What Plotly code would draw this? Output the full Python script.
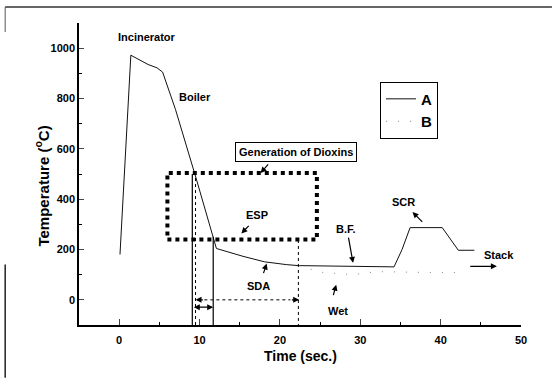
import plotly.graph_objects as go

# ---- data ----
A_time = [0.1, 1.45, 3.6, 4.7, 5.4, 7.0, 9.6, 12.1, 15.4, 18.1, 20.8, 22.3, 34.2, 35.2, 36.2, 40.2, 42.2, 44.2]
A_temp = [180, 972, 935, 922, 905, 757, 480, 204, 173, 151, 140, 136, 131, 200, 287, 287, 197, 197]

B_time = [22.4, 25.0, 29.1, 32.0, 38.3, 43.0]
B_temp = [136, 110, 100, 112, 109, 108]

x_ticks = [0, 10, 20, 30, 40, 50]
y_ticks = [0, 200, 400, 600, 800, 1000]

label_text = ["Incinerator", "Boiler", "ESP", "SDA", "Wet", "B.F.", "SCR", "Stack"]
label_x = [3.5, 9.4, 17.1, 17.3, 27.2, 28.2, 35.4, 47.3]
label_y = [1044, 807, 336, 56, -43, 280, 389, 180]

# arrows: (tail_x, tail_y, head_x, head_y)
arrow_tail_x = [16.3, 17.9, 26.6, 28.5, 37.9, 43.5, 18.7]
arrow_tail_y = [300, 100, 13, 253, 304, 133, 544]
arrow_head_x = [15.2, 18.35, 27.0, 29.1, 36.5, 47.0, 17.6]
arrow_head_y = [264, 144, 60, 147, 349, 133, 504]

dioxin_box_x = [6.0, 24.6]
dioxin_box_y = [240, 504]

FONT = "Liberation Sans, Arial, sans-serif"

fig = go.Figure()
fig.add_trace(go.Scatter(x=A_time, y=A_temp, mode="lines", name="A",
                         line=dict(color="#111", width=1)))
fig.add_trace(go.Scatter(x=B_time, y=B_temp, mode="lines", name="B",
                         line=dict(color="#888", width=1, dash="1px,11px")))

ann = []
for t, x, y in zip(label_text, label_x, label_y):
    ann.append(dict(x=x, y=y, xref="x", yref="y", text="<b>%s</b>" % t, showarrow=False,
                    font=dict(size=11, color="black", family=FONT)))
for tx, ty, hx, hy in zip(arrow_tail_x, arrow_tail_y, arrow_head_x, arrow_head_y):
    ann.append(dict(x=hx, y=hy, ax=tx, ay=ty, xref="x", yref="y", axref="x", ayref="y",
                    text="", showarrow=True, arrowhead=2, arrowsize=1, arrowwidth=1.2,
                    arrowcolor="black"))
# Generation of Dioxins box label
ann.append(dict(x=22.0, y=589, xref="x", yref="y", text="<b>Generation of Dioxins</b>",
                showarrow=False, bordercolor="black", borderwidth=1, borderpad=3,
                bgcolor="white", font=dict(size=11, color="black", family=FONT)))
# double headed arrows
ann.append(dict(x=11.7, y=-29, ax=9.1, ay=-29, xref="x", yref="y", axref="x", ayref="y",
                text="", showarrow=True, arrowhead=2, arrowside="end+start", arrowsize=1,
                arrowwidth=1.2, arrowcolor="black"))
ann.append(dict(x=9.5, y=0, ax=10.6, ay=0, xref="x", yref="y", axref="x", ayref="y",
                text="", showarrow=True, arrowhead=2, arrowsize=1, arrowwidth=1.2, arrowcolor="black"))
ann.append(dict(x=22.4, y=0, ax=21.3, ay=0, xref="x", yref="y", axref="x", ayref="y",
                text="", showarrow=True, arrowhead=2, arrowsize=1, arrowwidth=1.2, arrowcolor="black"))
# axis titles
ann.append(dict(x=0.5, y=-0.136, xref="paper", yref="paper", text="<b>Time (sec.)</b>",
                showarrow=False, font=dict(size=14, color="black", family=FONT)))
ann.append(dict(x=-0.111, y=0.46, xref="paper", yref="paper", text="<b>Temperature (<sup>o</sup>C)</b>",
                textangle=-90, showarrow=False, font=dict(size=15, color="black", family=FONT)))

shapes = [
    dict(type="rect", xref="x", yref="y", x0=dioxin_box_x[0], x1=dioxin_box_x[1],
         y0=dioxin_box_y[0], y1=dioxin_box_y[1], line=dict(color="black", width=4, dash="dot")),
    dict(type="line", xref="x", yref="y", x0=9.1, x1=9.1, y0=500, y1=-100, line=dict(color="black", width=1.2)),
    dict(type="line", xref="x", yref="y", x0=11.7, x1=11.7, y0=251, y1=-100, line=dict(color="black", width=1.2)),
    dict(type="line", xref="x", yref="y", x0=9.5, x1=9.5, y0=484, y1=-100, line=dict(color="black", width=1, dash="dot")),
    dict(type="line", xref="x", yref="y", x0=22.3, x1=22.3, y0=238, y1=-100, line=dict(color="black", width=1, dash="dot")),
    dict(type="line", xref="x", yref="y", x0=10.6, x1=21.3, y0=0, y1=0, line=dict(color="black", width=1, dash="dot")),
    # scan frame
    dict(type="line", xref="paper", yref="paper", x0=-0.167, x1=1.07, y0=1.053, y1=1.053,
         line=dict(color="#333", width=1.5)),
    dict(type="line", xref="paper", yref="paper", x0=-0.167, x1=-0.167, y0=1.053, y1=0.97,
         line=dict(color="#555", width=1)),
    dict(type="line", xref="paper", yref="paper", x0=-0.167, x1=-0.167, y0=0.2, y1=-0.175,
         line=dict(color="#222", width=1.5)),
]

fig.update_layout(
    width=552, height=378,
    margin=dict(l=79, r=31, t=23, b=53),
    paper_bgcolor="white", plot_bgcolor="white",
    font=dict(family=FONT, color="black"),
    showlegend=True,
    legend=dict(x=0.681, y=0.806, xanchor="left", yanchor="top", bordercolor="black",
                borderwidth=1, bgcolor="white",
                font=dict(size=15, family=FONT, weight="bold")),
    annotations=ann, shapes=shapes,
)
fig.update_xaxes(range=[-5, 50], tickvals=x_ticks, ticks="inside", ticklen=6, tickwidth=1.2,
                 showline=True, linecolor="black", linewidth=1.5, showgrid=False, zeroline=False,
                 tickfont=dict(size=11, family=FONT, weight="bold"), ticklabelstandoff=4,
                 minor=dict(dtick=5, tick0=0, ticks="inside", ticklen=3, tickcolor="black", showgrid=False))
fig.update_yaxes(range=[-100, 1100], tickvals=y_ticks, ticks="inside", ticklen=5, tickwidth=1.2,
                 showline=True, linecolor="black", linewidth=1.5, showgrid=False, zeroline=False,
                 tickfont=dict(size=11, family=FONT, weight="bold"),
                 minor=dict(dtick=100, tick0=0, ticks="inside", ticklen=3, tickcolor="black", showgrid=False))

fig.write_html("out.html")
